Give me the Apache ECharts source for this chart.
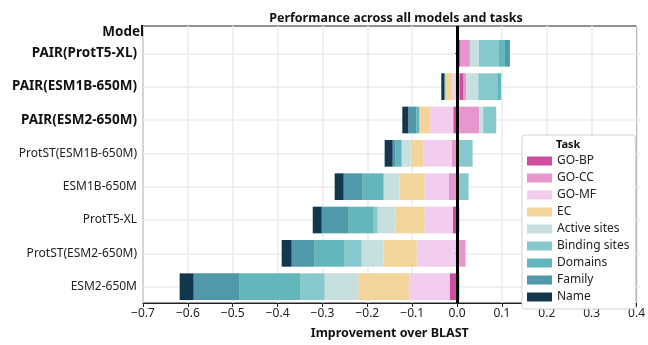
<!DOCTYPE html>
<html>
<head>
<meta charset="utf-8">
<script src="https://cdn.jsdelivr.net/npm/echarts@6/dist/echarts.min.js"></script>
<style>html,body{margin:0;padding:0;background:#fff}#c{width:648px;height:345px}</style>
</head>
<body>
<div id="c"></div>
<script>
const categories = ['PAIR(ProtT5-XL)','PAIR(ESM1B-650M)','PAIR(ESM2-650M)','ProtST(ESM1B-650M)','ESM1B-650M','ProtT5-XL','ProtST(ESM2-650M)','ESM2-650M'];
const boldCategories = ['PAIR(ProtT5-XL)','PAIR(ESM1B-650M)','PAIR(ESM2-650M)'];
const tasks = ['GO-BP','GO-CC','GO-MF','EC','Active sites','Binding sites','Domains','Family','Name'];
const goBP = [0.003, 0.0096, -0.0133, -0.0059, -0.0059, -0.0147, -0.0081, -0.0214];
const goCC = [0.0206, 0.0059, 0.0442, -0.0111, -0.0177, 0, 0.014, 0];
const goMF = [0, -0.0155, -0.0509, -0.0619, -0.0531, -0.0619, -0.0863, -0.0885];
const ec = [0, -0.0155, -0.0243, -0.0288, -0.0553, -0.0642, -0.073, -0.1136];
const activeSites = [0.02, 0.0265, 0.0088, -0.0199, -0.0354, -0.0398, -0.0487, -0.0745];
const bindingSites = [0.0442, 0.042, 0.0288, 0.0295, 0.0206, -0.0088, -0.0376, -0.0531];
const domains = [0.0133, 0.0088, -0.0066, -0.0133, -0.0465, -0.0553, -0.0664, -0.135];
const family = [0.011, -0.0022, -0.0177, -0.0066, -0.042, -0.0597, -0.0509, -0.1018];
const nameTask = [-0.005, -0.0066, -0.0133, -0.0177, -0.0199, -0.0199, -0.0221, -0.031];
const taskValues = [goBP, goCC, goMF, ec, activeSites, bindingSites, domains, family, nameTask];
const colors = ['#cf4ca0','#e896ce','#f2cdef','#f3d49a','#c8dfe0','#86c8cc','#62b6bc','#5099aa','#12374e'];
const xMin = -0.7, xMax = 0.4, xStep = 0.1;

const FONT = 'Noto Sans';
const chart = echarts.init(document.getElementById('c'), null, {renderer:'canvas'});
const fmt = v => { if (Math.abs(v) < 1e-9) return '0.0'; return v.toFixed(1).replace('-', '\u2212'); };

const series = tasks.map((t, i) => ({
  name: t, type: 'bar', stack: 'total', xAxisIndex: 1, yAxisIndex: 1,
  barWidth: '80%', itemStyle: {color: colors[i]}, z: 2,
  data: taskValues[i]
}));
series.push({
  type: 'line', xAxisIndex: 0, yAxisIndex: 0, data: [], z: 10, silent: true,
  markLine: { symbol: 'none', silent: true, label: {show: false}, z: 10,
    lineStyle: {color: '#000', width: 3, type: 'solid'},
    data: [{xAxis: 0}] }
});

chart.setOption({
  animation: false,
  textStyle: {fontFamily: FONT},
  title: [
    {text: 'Performance across all models and tasks', left: 391, textAlign: 'center', top: 7,
     textStyle: {fontFamily: FONT, fontSize: 12.5, fontWeight: 'bold', color: '#111'}},
    {text: 'Model', left: 139, textAlign: 'right', top: 20,
     textStyle: {fontFamily: FONT, fontSize: 13.5, fontWeight: 'bold', color: '#111'}}
  ],
  grid: [
    {left: 143, right: 8, top: 26, bottom: 31, show: true, borderColor: '#222', borderWidth: 1, backgroundColor: 'transparent', z: 0},
    {left: 143, right: 8, top: 53.3, bottom: 58.3}
  ],
  xAxis: [
    {type: 'value', gridIndex: 0, min: xMin, max: xMax, interval: xStep,
     axisLine: {show: true, lineStyle: {color: '#222'}},
     axisTick: {show: true, length: 4, lineStyle: {color: '#222'}},
     axisLabel: {formatter: fmt, color: '#222', fontSize: 12, fontFamily: FONT, margin: 5},
     splitLine: {show: true, lineStyle: {color: '#ebebeb', width: 1.5}},
     name: 'Improvement over BLAST', nameLocation: 'middle', nameGap: 24,
     nameTextStyle: {fontFamily: FONT, fontSize: 12.5, fontWeight: 'bold', color: '#111'}},
    {type: 'value', gridIndex: 1, min: xMin, max: xMax, interval: xStep, show: false,
     splitLine: {show: false}}
  ],
  yAxis: [
    {type: 'value', gridIndex: 0, min: 0, max: 1, show: false, splitLine: {show: false}},
    {type: 'category', gridIndex: 1, data: categories, inverse: true, boundaryGap: false,
     axisLine: {show: false},
     axisTick: {show: true, length: 4, lineStyle: {color: '#222'}},
     splitLine: {show: true, lineStyle: {color: '#ebebeb', width: 1.5}},
     axisLabel: {margin: 6, color: '#222', fontFamily: FONT, fontSize: 12,
       formatter: v => boldCategories.includes(v) ? '{b|' + v + '}' : v,
       rich: {b: {fontWeight: 'bold', fontSize: 13.5, color: '#111', fontFamily: FONT}}}}
  ],
  legend: {
    data: tasks, orient: 'vertical', left: 522, top: 135,
    padding: [20, 6, 6, 5], itemWidth: 25, itemHeight: 9, itemGap: 5,
    backgroundColor: '#fff', borderColor: '#d0d0d0', borderWidth: 1, borderRadius: 3,
    textStyle: {fontFamily: FONT, fontSize: 12, color: '#222'},
    icon: 'rect', selectedMode: false, z: 20
  },
  graphic: [
    {type: 'text', left: 556, top: 139, z: 100,
     style: {text: 'Task', font: 'bold 11px "Noto Sans"', fill: '#111'}}
  ],
  series: series
});
</script>
</body>
</html>
